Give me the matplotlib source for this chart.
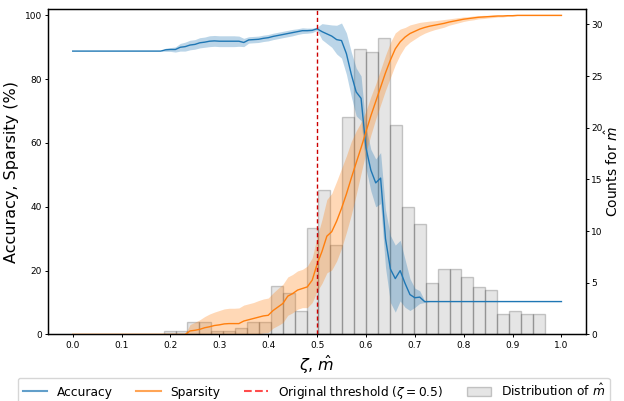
import numpy as np
import matplotlib
matplotlib.use("Agg")
import matplotlib.pyplot as plt
from matplotlib.lines import Line2D
from matplotlib.patches import Patch

# threshold grid zeta = 0.00 ... 1.00
zeta = np.round(np.arange(0, 101) * 0.01, 2)

accuracy = [88.8] * 19 + [
    89.2, 89.3, 89.3, 90.0, 90.2, 90.7, 90.9, 91.4, 91.6, 91.9,
    92.0, 91.9, 91.9, 91.9, 91.9, 91.9, 91.5, 92.3, 92.4, 92.5,
    92.8, 93.0, 93.4, 93.7, 94.0, 94.3, 94.6, 94.9, 95.2, 95.2,
    95.3, 95.8, 94.9, 94.2, 93.5, 92.4, 92.1, 88.0, 81.5, 76.0,
    74.0, 58.5, 51.5, 47.5, 49.0, 30.0, 20.5, 17.5, 20.0, 16.0,
    12.5, 11.5, 11.7, 10.3] + [10.3] * 28

accuracy_sd = [0.0] * 19 + [
    0.5, 0.6, 0.8, 1.2, 1.4, 1.5, 1.5, 1.6, 1.6, 1.7,
    1.7, 1.7, 1.7, 1.7, 1.7, 1.6, 1.3, 1.0, 1.0, 1.0,
    1.0, 1.0, 1.0, 1.0, 1.0, 1.0, 1.0, 0.9, 0.9, 0.8,
    0.7, 0.5, 2.5, 3.0, 3.5, 4.5, 5.5, 6.5, 7.0, 7.5,
    7.0, 6.5, 6.5, 7.5, 8.0, 9.0, 10.5, 10.5, 9.5, 7.5,
    5.0, 3.0, 2.0, 0.3] + [0.0] * 28

sparsity = [0.0] * 24 + [
    1.1, 1.3, 1.6, 2.1, 2.4, 2.8, 3.0, 3.3, 3.4, 3.4,
    3.4, 4.2, 4.6, 5.0, 5.4, 5.8, 6.0, 7.5, 8.6, 9.7,
    12.0, 12.8, 13.9, 14.4, 14.9, 17.0, 22.0, 26.0, 30.8, 32.2,
    35.5, 39.5, 44.0, 49.0, 53.8, 58.5, 63.5, 68.5, 73.0, 77.5,
    82.0, 86.0, 89.5, 91.7, 93.2, 94.3, 95.0, 95.7, 96.2, 96.6,
    96.9, 97.2, 97.5, 97.9, 98.2, 98.5, 98.8, 99.0, 99.2, 99.4,
    99.5, 99.6, 99.7, 99.8, 99.8, 99.9, 99.9] + [100.0] * 10

sparsity_sd = [0.0] * 24 + [
    2.0, 2.5, 3.0, 3.5, 4.0, 4.2, 4.5, 4.7, 4.8, 4.8,
    4.9, 5.0, 5.0, 5.0, 5.2, 5.3, 5.4, 5.5, 5.8, 6.0,
    6.0, 6.0, 6.0, 6.0, 6.5, 7.0, 8.5, 10.0, 11.5, 12.0,
    12.5, 12.5, 12.0, 11.5, 10.0, 8.0, 6.5, 6.0, 5.5, 5.5,
    5.5, 5.5, 5.0, 4.0, 3.0, 2.7, 2.4, 2.1, 1.8, 1.6,
    1.4, 1.3, 1.2, 1.0, 0.9, 0.8, 0.7, 0.6, 0.6, 0.5,
    0.5, 0.4, 0.4, 0.3, 0.3, 0.2, 0.2] + [0.1] * 10

# histogram of m_hat (32 bins between 0.186 and 0.966)
m_bins = np.linspace(0.186, 0.966, 33)
m_counts = [0.29, 0.29, 1.22, 1.22, 0.29, 0.29, 0.58, 1.22, 1.22, 4.65,
            3.97, 2.28, 10.26, 13.97, 8.64, 21.0, 27.6, 27.3, 28.65, 20.3,
            12.3, 10.65, 4.94, 6.29, 6.29, 5.58, 4.61, 4.29, 1.94, 2.26,
            1.94, 1.94]

threshold = 0.5

acc = np.array(accuracy)
acc_sd = np.array(accuracy_sd)
spa = np.array(sparsity)
spa_sd = np.array(sparsity_sd)

fig = plt.figure(figsize=(6.24, 4.01), dpi=100)
ax1 = fig.add_axes([0.0774, 0.166, 0.8615, 0.8116])
ax2 = ax1.twinx()

# histogram behind the curves
ax1.set_zorder(ax2.get_zorder() + 1)
ax1.patch.set_visible(False)
centers = (m_bins[:-1] + m_bins[1:]) / 2
ax2.hist(centers, bins=m_bins, weights=m_counts, color="gray", alpha=0.2,
         edgecolor="black", linewidth=1.0)

ax1.plot(zeta, acc, color="#1f77b4", lw=1.0)
ax1.fill_between(zeta, acc - acc_sd, acc + acc_sd, color="#1f77b4", alpha=0.3, lw=0)
ax1.plot(zeta, spa, color="#ff7f0e", lw=1.0)
ax1.fill_between(zeta, spa - spa_sd, spa + spa_sd, color="#ff7f0e", alpha=0.3, lw=0)
ax1.axvline(threshold, color="#cc0000", ls=(0, (3, 2)), lw=1.0)

ax1.set_xlim(-0.05, 1.05)
ax1.set_ylim(0, 102)
ax2.set_ylim(0, 31.5)
ax1.set_xticks(np.arange(0, 1.01, 0.1))
ax1.set_yticks([0, 20, 40, 60, 80, 100])
ax2.set_yticks([0, 5, 10, 15, 20, 25, 30])

for a in (ax1, ax2):
    a.tick_params(labelsize=6.5, length=2.5, width=0.7, pad=2)
    for s in a.spines.values():
        s.set_linewidth(0.9)
ax2.tick_params(pad=1.5)

ax1.set_xlabel(r"$\zeta$, $\hat{m}$", fontsize=11.5, labelpad=3)
ax1.set_ylabel("Accuracy, Sparsity (%)", fontsize=11.5, labelpad=4)
ax2.set_ylabel(r"Counts for $\hat{m}$", fontsize=10, labelpad=0.5)

handles = [
    Line2D([], [], color="#1f77b4", lw=1.5, alpha=0.7),
    Line2D([], [], color="#ff7f0e", lw=1.5, alpha=0.7),
    Line2D([], [], color="red", ls="--", lw=1.5, alpha=0.7),
    Patch(facecolor="gray", alpha=0.2, edgecolor="black"),
]
labels = ["Accuracy", "Sparsity", r"Original threshold ($\zeta = 0.5$)",
          r"Distribution of $\hat{m}$"]
fig.legend(handles, labels, loc="upper center", bbox_to_anchor=(0.503, 0.058),
           ncol=4, fontsize=8.8, frameon=True, columnspacing=1.9,
           handlelength=2.0, borderaxespad=0)

fig.savefig("out.png", dpi=100)
